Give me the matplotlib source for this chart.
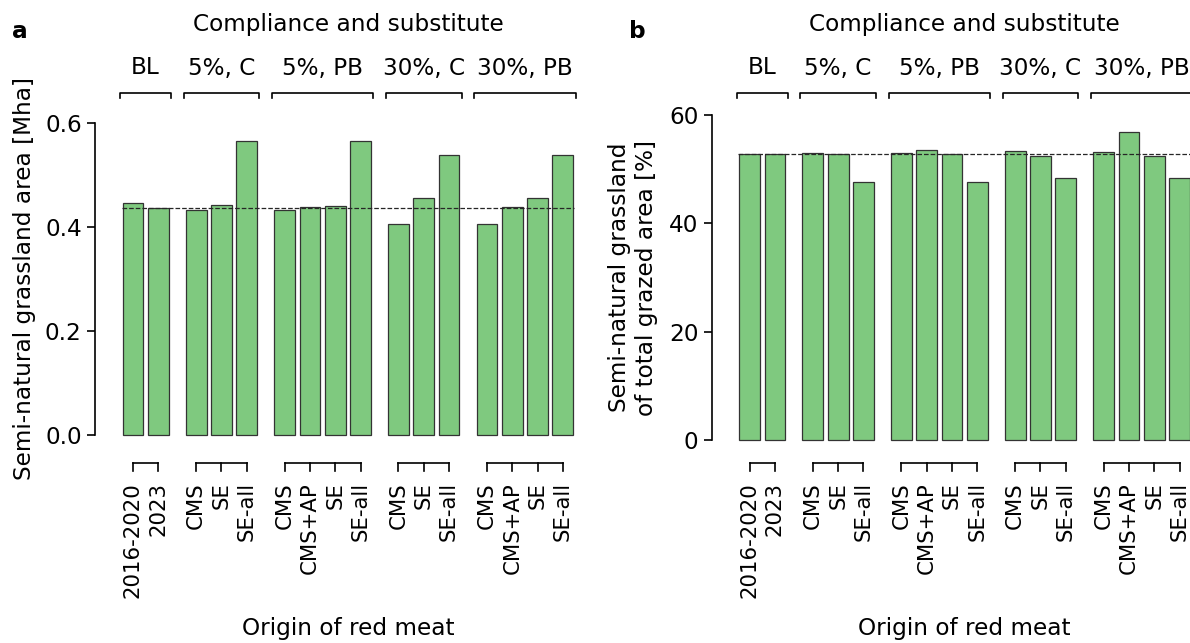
import numpy as np
import matplotlib
matplotlib.use('Agg')
import matplotlib.pyplot as plt
from matplotlib.transforms import blended_transform_factory

# Дані
groups = ['BL', '5%, C', '5%, PB', '30%, C', '30%, PB']
group_labels = [
    ['2016-2020', '2023'],
    ['CMS', 'SE', 'SE-all'],
    ['CMS', 'CMS+AP', 'SE', 'SE-all'],
    ['CMS', 'SE', 'SE-all'],
    ['CMS', 'CMS+AP', 'SE', 'SE-all'],
]
area_mha = [0.446, 0.436,
            0.431, 0.441, 0.565,
            0.431, 0.437, 0.439, 0.565,
            0.405, 0.455, 0.538,
            0.405, 0.437, 0.455, 0.538]
share_pct = [52.8, 52.8,
             52.9, 52.8, 47.7,
             52.9, 53.5, 52.8, 47.7,
             53.3, 52.4, 48.4,
             53.2, 56.9, 52.4, 48.4]
ref_area = 0.436
ref_share = 52.8

W, H = 1190, 643
FS = 15.3      # підписи під стовпцями
FL = 16.7      # заголовки та підписи осей
bar_color = '#7fc97f'

# позиції стовпців: проміжок 0.5 між групами
positions = []
group_spans = []
x = 0.0
for labs in group_labels:
    start = x
    for _ in labs:
        positions.append(x)
        x += 1
    group_spans.append((start, x - 1))
    x += 0.5
positions = np.array(positions)
flat_labels = [l for labs in group_labels for l in labs]

fig = plt.figure(figsize=(W / 100, H / 100), dpi=100)


def fy(px):
    return 1 - px / H


def make_panel(left_px, y0_px, ytop_px, values, ref, ylim, yticks, letter, ylabel, ylabel_x):
    ax_w = 19 * 25.29
    ax = fig.add_axes([left_px / W, fy(y0_px), ax_w / W, (y0_px - ytop_px) / H])
    ax.bar(positions, values, width=0.82, color=bar_color, edgecolor='0.2',
           linewidth=0.9, clip_on=False, zorder=2)
    ax.hlines(ref, positions[0] - 0.45, positions[-1] + 0.45, colors='0.15',
              linestyles='--', linewidth=0.9, zorder=3)
    ax.set_xlim(-1.5, 17.5)
    ax.set_ylim(*ylim)
    ax.set_yticks(yticks)
    ax.tick_params(axis='y', labelsize=FL, length=6, width=1.2)
    ax.set_xticks([])
    for s in ['top', 'right', 'bottom']:
        ax.spines[s].set_visible(False)
    ax.spines['left'].set_linewidth(1.2)

    tr = blended_transform_factory(ax.transData, fig.transFigure)
    kw = dict(transform=tr, clip_on=False, color='black', linewidth=1.2)
    # верхні дужки (групи)
    for (a, b), g in zip(group_spans, groups):
        ax.plot([a - 0.5, a - 0.5, b + 0.5, b + 0.5],
                [fy(97.5), fy(93.3), fy(93.3), fy(97.5)], **kw)
        ax.text((a + b) / 2, fy(68), g, transform=tr, ha='center', va='center', fontsize=FL)
    # нижні дужки (походження)
    for a, b in group_spans:
        ax.plot([a, b], [fy(463.3), fy(463.3)], **kw)
        for p in positions[(positions >= a) & (positions <= b)]:
            ax.plot([p, p], [fy(463.3), fy(471)], **kw)
    for p, lab in zip(positions, flat_labels):
        ax.text(p, fy(482), lab, transform=tr, rotation=90, ha='center', va='top', fontsize=FS)

    mid = (positions[0] + positions[-1]) / 2
    ax.text(mid, fy(25), 'Compliance and substitute', transform=tr, ha='center', va='center', fontsize=FL)
    ax.text(mid, fy(628), 'Origin of red meat', transform=tr, ha='center', va='center', fontsize=FL)
    fig.text((left_px - 83) / W, fy(31), letter, fontsize=FL, fontweight='bold', ha='left', va='center')
    fig.text(ylabel_x / W, fy((y0_px + ytop_px) / 2), ylabel, rotation=90, ha='center', va='center',
             fontsize=FL, multialignment='center')
    return ax


make_panel(95, 434.5, 122.5, area_mha, ref_area, (0, 0.6), [0, 0.2, 0.4, 0.6], 'a',
           'Semi-natural grassland area [Mha]', 25)
make_panel(711.7, 440, 115, share_pct, ref_share, (0, 60), [0, 20, 40, 60], 'b',
           'Semi-natural grassland\nof total grazed area [%]', 633)

fig.savefig('out.png', dpi=100)
